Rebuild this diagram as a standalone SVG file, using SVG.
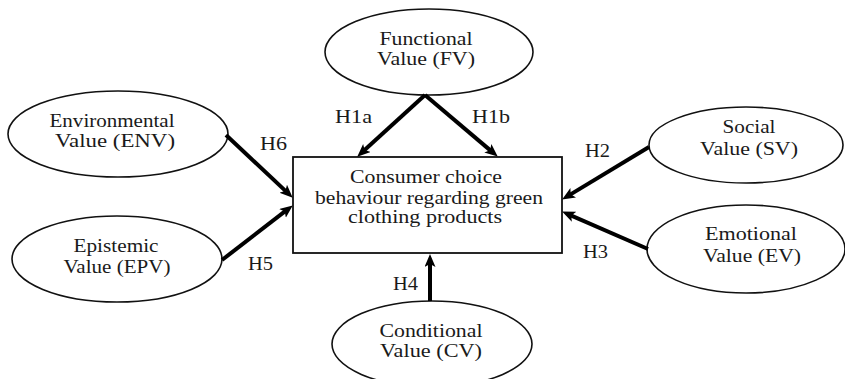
<svg xmlns="http://www.w3.org/2000/svg" width="845" height="379" viewBox="0 0 845 379">
<style>
.bg{fill:#ffffff}
.node ellipse{fill:#ffffff;stroke:#111111;stroke-width:1.6}
.node rect{fill:#ffffff;stroke:#111111;stroke-width:1.8}
text{font-family:"Liberation Serif","Times New Roman",serif;font-size:18px;fill:#1a1a1a;text-anchor:middle}
#connectors line{stroke:#000000;stroke-width:4;marker-end:url(#ah)}
</style>
<defs>
<marker id="ah" markerUnits="userSpaceOnUse" markerWidth="14" markerHeight="12" refX="6" refY="5.5" orient="auto">
<path d="M0,0 L13,5.5 L0,11 L3,5.5 z" fill="#000000"/>
</marker>
</defs>
<rect class="bg" x="0" y="0" width="845" height="379"/>
<g id="n-fv" class="node">
<ellipse cx="429" cy="52" rx="104" ry="43"/>
<text x="426" y="45" textLength="93" lengthAdjust="spacingAndGlyphs">Functional</text>
<text x="426" y="65" textLength="98" lengthAdjust="spacingAndGlyphs">Value (FV)</text>
</g>
<g id="n-env" class="node">
<ellipse cx="118" cy="134" rx="110" ry="43"/>
<text x="112" y="127" textLength="125" lengthAdjust="spacingAndGlyphs">Environmental</text>
<text x="115" y="147" textLength="120" lengthAdjust="spacingAndGlyphs">Value (ENV)</text>
</g>
<g id="n-epv" class="node">
<ellipse cx="117" cy="259" rx="105" ry="43"/>
<text x="116" y="252" textLength="85" lengthAdjust="spacingAndGlyphs">Epistemic</text>
<text x="117" y="273" textLength="107" lengthAdjust="spacingAndGlyphs">Value (EPV)</text>
</g>
<g id="n-sv" class="node">
<ellipse cx="746" cy="145" rx="97" ry="38"/>
<text x="749" y="133" textLength="53" lengthAdjust="spacingAndGlyphs">Social</text>
<text x="749" y="155" textLength="98" lengthAdjust="spacingAndGlyphs">Value (SV)</text>
</g>
<g id="n-ev" class="node">
<ellipse cx="746" cy="249" rx="99" ry="44"/>
<text x="751" y="240" textLength="92" lengthAdjust="spacingAndGlyphs">Emotional</text>
<text x="752" y="262" textLength="98" lengthAdjust="spacingAndGlyphs">Value (EV)</text>
</g>
<g id="n-cv" class="node">
<ellipse cx="432" cy="344" rx="100" ry="43"/>
<text x="431" y="337" textLength="103" lengthAdjust="spacingAndGlyphs">Conditional</text>
<text x="431" y="357" textLength="102" lengthAdjust="spacingAndGlyphs">Value (CV)</text>
</g>
<g id="n-ccb" class="node">
<rect x="293" y="157" width="269" height="96"/>
<text x="426" y="183" textLength="152" lengthAdjust="spacingAndGlyphs">Consumer choice</text>
<text x="429" y="204" textLength="228" lengthAdjust="spacingAndGlyphs">behaviour regarding green</text>
<text x="425" y="223" textLength="154" lengthAdjust="spacingAndGlyphs">clothing products</text>
</g>
<g id="connectors">
<line x1="425" y1="95" x2="362.4" y2="152"/>
<line x1="425" y1="95" x2="492.4" y2="152.1"/>
<line x1="226" y1="135" x2="287.6" y2="192.9"/>
<line x1="222" y1="260" x2="287.2" y2="209.7"/>
<line x1="649" y1="147" x2="568.1" y2="195.9"/>
<line x1="648" y1="249" x2="568.5" y2="214.4"/>
<line x1="430" y1="301" x2="430" y2="261"/>
<text x="353.5" y="123" textLength="37" lengthAdjust="spacingAndGlyphs">H1a</text>
<text x="491" y="123" textLength="38" lengthAdjust="spacingAndGlyphs">H1b</text>
<text x="597.5" y="157" textLength="25" lengthAdjust="spacingAndGlyphs">H2</text>
<text x="595.5" y="258" textLength="25" lengthAdjust="spacingAndGlyphs">H3</text>
<text x="405.5" y="290" textLength="25" lengthAdjust="spacingAndGlyphs">H4</text>
<text x="260.5" y="270" textLength="25" lengthAdjust="spacingAndGlyphs">H5</text>
<text x="273.5" y="150" textLength="27" lengthAdjust="spacingAndGlyphs">H6</text>
</g>
</svg>
